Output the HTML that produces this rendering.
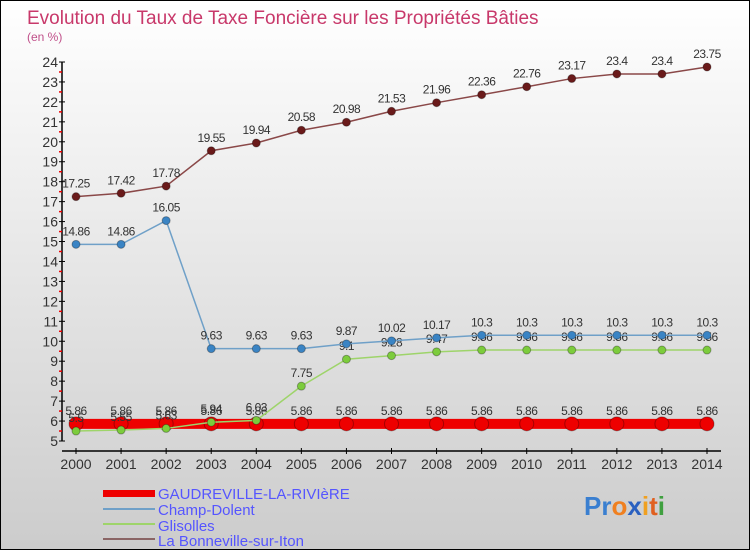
<!DOCTYPE html>
<html><head><meta charset="utf-8"><style>
body{margin:0}
#c{width:748px;height:548px;border:1px solid #000;background:linear-gradient(#fff,#ccc);position:relative;overflow:hidden;font-family:"Liberation Sans",sans-serif}
svg text{font-family:"Liberation Sans",sans-serif}
</style></head><body>
<div id="c">
<svg id="s" width="748" height="548">
<text x="26" y="23" font-size="19" fill="#c8386a">Evolution du Taux de Taxe Foncière sur les Propriétés Bâties</text>
<text x="26" y="40" font-size="12" fill="#c0508a">(en %)</text>
<g id="g"></g>
<g>
<rect x="102" y="489" width="52" height="7" fill="#e00"/>
<text x="157" y="498" font-size="15" fill="#55f">GAUDREVILLE-LA-RIVIèRE</text>
<line x1="102" y1="508" x2="154" y2="508" stroke="#6fa0c8" stroke-width="2"/>
<text x="157" y="514" font-size="15" fill="#55f">Champ-Dolent</text>
<line x1="102" y1="523" x2="154" y2="523" stroke="#9ed46a" stroke-width="2"/>
<text x="157" y="530" font-size="15" fill="#55f">Glisolles</text>
<line x1="102" y1="538" x2="154" y2="538" stroke="#8a6565" stroke-width="2"/>
<text x="157" y="545" font-size="15" fill="#55f">La Bonneville-sur-Iton</text>
</g>
<g font-size="26" font-weight="bold">
<text x="583" y="514"><tspan fill="#3a7fd0">Pr</tspan><tspan fill="#f08020">o</tspan><tspan fill="#2a60c0">x</tspan><tspan fill="#f0a020">i</tspan><tspan fill="#e06020">t</tspan><tspan fill="#40a040">i</tspan></text>
</g>
</svg></div>
<script>
const years=[2000,2001,2002,2003,2004,2005,2006,2007,2008,2009,2010,2011,2012,2013,2014];
const gaud=[5.86,5.86,5.86,5.86,5.86,5.86,5.86,5.86,5.86,5.86,5.86,5.86,5.86,5.86,5.86];
const champ=[14.86,14.86,16.05,9.63,9.63,9.63,9.87,10.02,10.17,10.3,10.3,10.3,10.3,10.3,10.3];
const glis=[5.5,5.55,5.63,5.94,6.03,7.75,9.1,9.28,9.47,9.56,9.56,9.56,9.56,9.56,9.56];
const bonn=[17.25,17.42,17.78,19.55,19.94,20.58,20.98,21.53,21.96,22.36,22.76,23.17,23.4,23.4,23.75];
const yTicks=[5,6,7,8,9,10,11,12,13,14,15,16,17,18,19,20,21,22,23,24];
const NS="http://www.w3.org/2000/svg";
const g=document.getElementById('g');
function x(i){return 75+i*(706-75)/14;}
function y(v){return 440-(v-5)*(440-61)/19;}
function mk(t,a,p){const e=document.createElementNS(NS,t);for(const k in a)e.setAttribute(k,a[k]);(p||g).appendChild(e);return e;}
const ya=mk('line',{x1:61,y1:y(24),x2:61,y2:y(5),stroke:'#000','stroke-width':1.5});


const xa=mk('line',{x1:61,y1:450,x2:720,y2:450,stroke:'#000','stroke-width':1.5});


yTicks.forEach(v=>{
 mk('line',{x1:58,y1:y(v),x2:64,y2:y(v),stroke:'#000'});
 if(v<24)mk('line',{x1:58,y1:y(v+0.5),x2:61,y2:y(v+0.5),stroke:'#e00','stroke-width':1.5});
 const t=mk('text',{x:57,y:y(v)+5,'font-size':14,'text-anchor':'end',fill:'#333'});t.textContent=v;
 
 
});
years.forEach((yr,i)=>{
 mk('line',{x1:x(i),y1:447,x2:x(i),y2:453,stroke:'#000'});
 const t=mk('text',{x:x(i),y:468,'font-size':14,'text-anchor':'middle',fill:'#333'});t.textContent=yr;
 
 
});
function series(d,col,dot,w,r,name){
 const p=mk('polyline',{points:d.map((v,i)=>x(i)+','+y(v)).join(' '),fill:'none',stroke:col,'stroke-width':w});
 
 
 d.forEach((v,i)=>{
  const c=mk('circle',{cx:x(i),cy:y(v),r:r,fill:dot,stroke:'rgba(0,0,0,0.3)'});
  
  
  const t=mk('text',{x:x(i),y:y(v)-9,'font-size':12,'text-anchor':'middle',fill:'#333','letter-spacing':'-0.5'});t.textContent=v;
  
  
 });
}
series(gaud,'#e00','#e00',10,7,'gaudreville');
series(glis,'#9ed46a','#7ccc3c',1.5,4,'glisolles');
series(champ,'#6fa0c8','#3a84c4',1.5,4,'champ-dolent');
series(bonn,'#8a4848','#6a1a1a',1.5,4,'la-bonneville');
</script>
</body></html>
